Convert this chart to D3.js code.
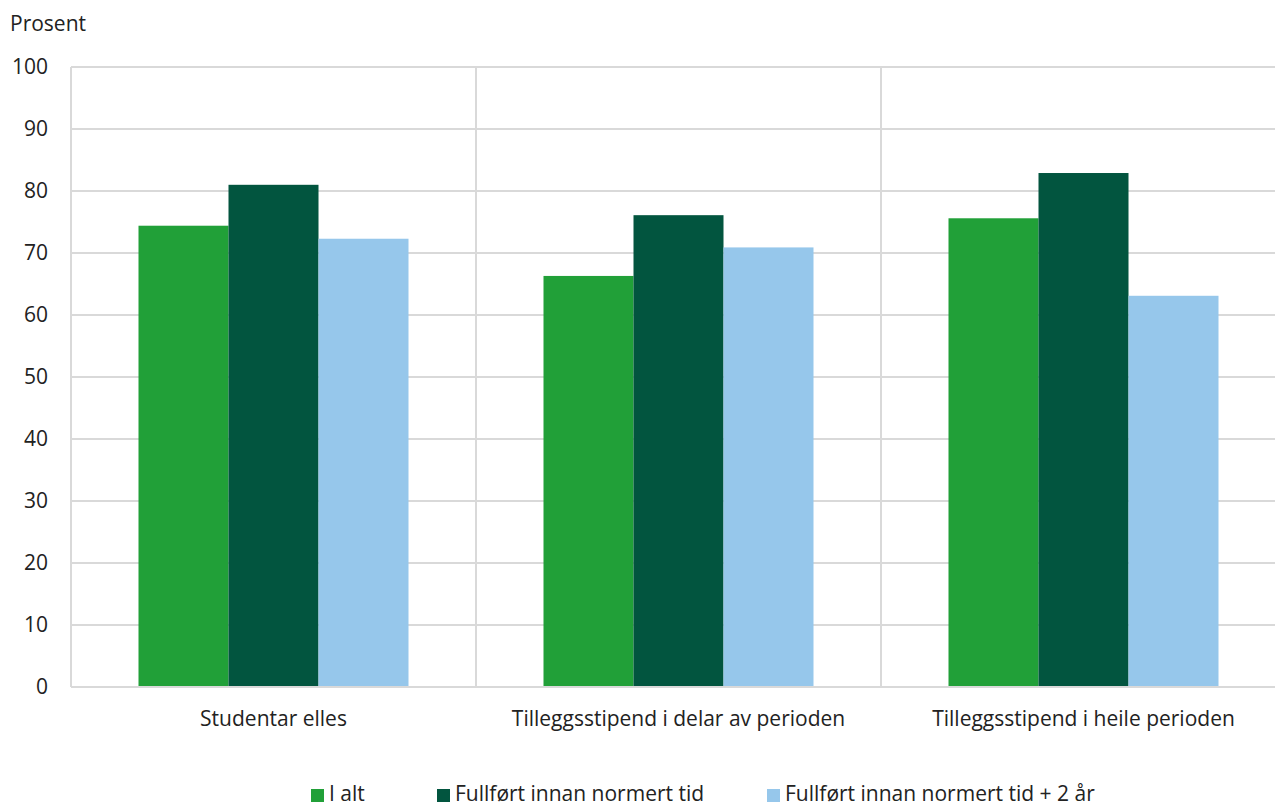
<!DOCTYPE html>
<html><head><meta charset="utf-8">
<script src="https://cdn.jsdelivr.net/npm/d3@7"></script>
<style>
html,body{margin:0;padding:0;background:#fff;overflow:hidden;}
svg{display:block;font-family:"Open Sans",sans-serif;}
</style></head>
<body><svg id="c" width="1275" height="807"></svg>
<script>
const categories = ["Studentar elles", "Tilleggsstipend i delar av perioden", "Tilleggsstipend i heile perioden"];
const seriesNames = ["I alt", "Fullført innan normert tid", "Fullført innan normert tid + 2 år"];
const iAlt = [74.4, 66.3, 75.6];
const normert = [81.0, 76.1, 82.9];
const normert2 = [72.3, 70.9, 63.1];
const yTicks = [0, 10, 20, 30, 40, 50, 60, 70, 80, 90, 100];
const colors = ["#21a038", "#02553f", "#96c7eb"];

(function () {
const series = [iAlt, normert, normert2];
const svg = d3.select("#c");
const mLeft = 71, mTop = 67, mBottom = 687, mRight = 1286;
const fs = 21;
const x = d3.scaleBand().domain(categories).range([mLeft, mRight]).paddingInner(0).paddingOuter(0);
const x1 = d3.scaleBand().domain(d3.range(series.length)).range([0, x.bandwidth()]).paddingOuter(0.75).paddingInner(0);
const y = d3.scaleLinear().domain([0, 100]).range([mBottom, mTop]);
const grid = "#d9d9d9";

svg.append("g").selectAll("line").data(yTicks.filter(d => d > 0)).join("line")
  .attr("x1", mLeft).attr("x2", 1275).attr("y1", d => y(d)).attr("y2", d => y(d))
  .attr("stroke", grid).attr("stroke-width", 2);
svg.append("g").selectAll("line").data(categories.slice(1)).join("line")
  .attr("x1", d => x(d)).attr("x2", d => x(d)).attr("y1", mTop).attr("y2", mBottom)
  .attr("stroke", grid).attr("stroke-width", 2);
svg.append("line").attr("x1", mLeft).attr("x2", mLeft).attr("y1", mTop).attr("y2", mBottom)
  .attr("stroke", grid).attr("stroke-width", 2);

const g = svg.append("g").selectAll("g").data(categories).join("g")
  .attr("transform", d => `translate(${x(d)},0)`);
g.selectAll("rect").data((c, ci) => series.map((s, si) => ({si, v: s[ci]}))).join("rect")
  .attr("x", d => x1(d.si)).attr("width", x1.bandwidth())
  .attr("y", d => y(d.v)).attr("height", d => y(0) - y(d.v))
  .attr("fill", d => colors[d.si]);

svg.append("line").attr("x1", mLeft).attr("x2", 1275).attr("y1", mBottom).attr("y2", mBottom)
  .attr("stroke", grid).attr("stroke-width", 2);

const yAxis = d3.axisLeft(y).tickValues(yTicks).tickSize(0).tickPadding(23);
const ya = svg.append("g").attr("transform", `translate(${mLeft},0)`).call(yAxis);
ya.select(".domain").remove();
ya.selectAll("text").attr("font-size", fs).attr("fill", "#222").attr("font-family", "Open Sans");

const xAxis = d3.axisBottom(x).tickSize(0).tickPadding(24);
const xa = svg.append("g").attr("transform", `translate(0,${mBottom})`).call(xAxis);
xa.select(".domain").remove();
xa.selectAll("text").attr("font-size", fs).attr("fill", "#222").attr("font-family", "Open Sans");

svg.append("text").attr("x", 10).attr("y", 31).text("Prosent")
  .attr("font-size", fs).attr("fill", "#222");

const legX = [311, 437, 767];
const lg = svg.append("g").selectAll("g").data(seriesNames).join("g")
  .attr("transform", (d, i) => `translate(${legX[i]},0)`);
lg.append("rect").attr("x", 0).attr("y", 789).attr("width", 13).attr("height", 13)
  .attr("fill", (d, i) => colors[i]);
lg.append("text").attr("x", 18).attr("y", 801).text(d => d)
  .attr("font-size", fs).attr("fill", "#222");
})();
</script></body></html>
